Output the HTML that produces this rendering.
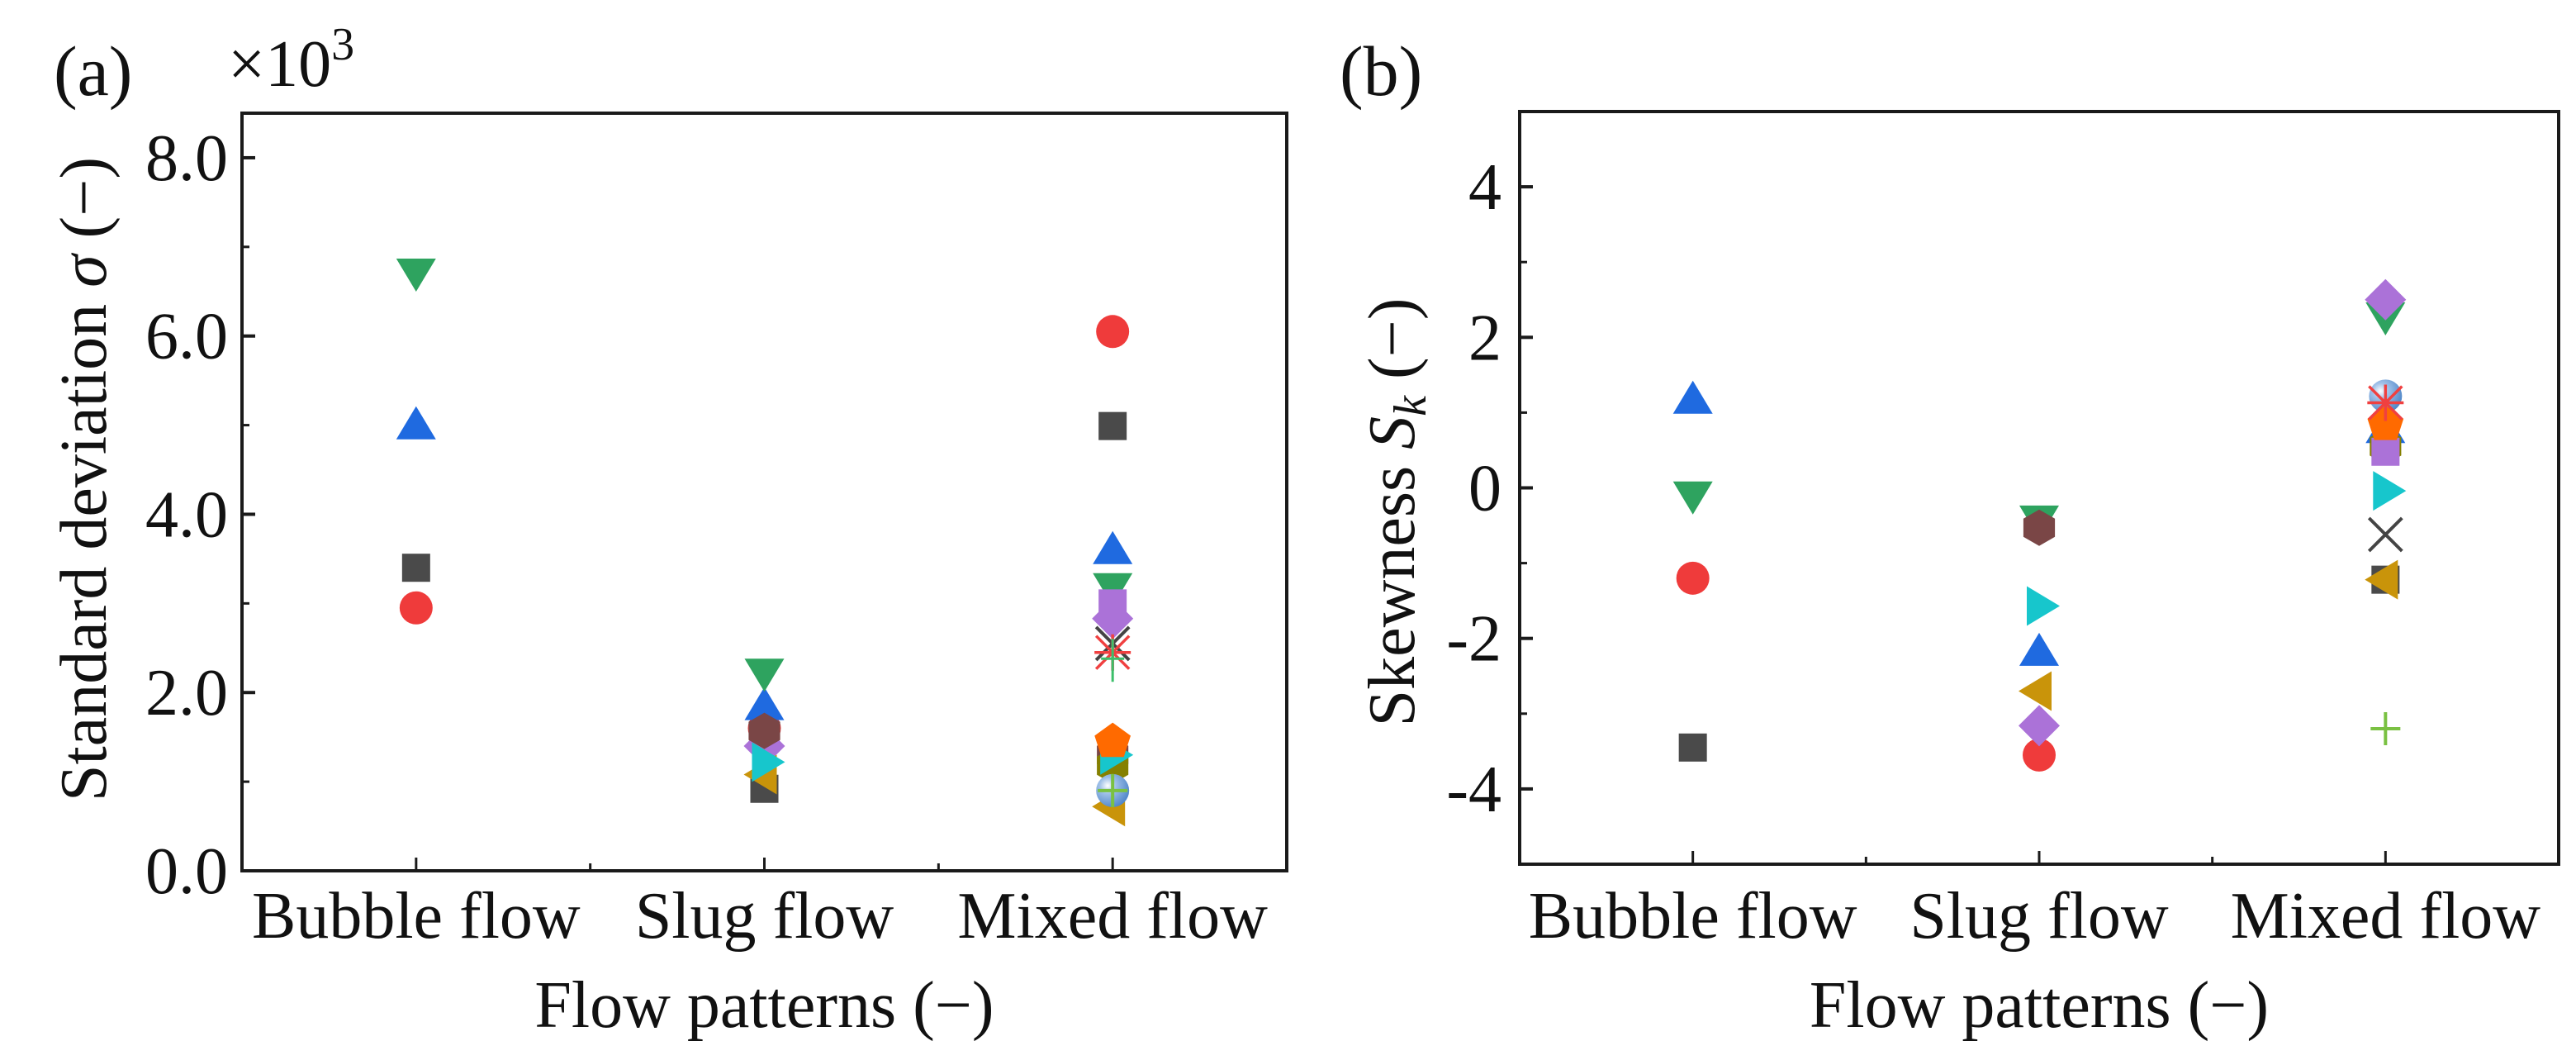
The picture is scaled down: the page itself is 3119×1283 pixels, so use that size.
<!DOCTYPE html>
<html><head><meta charset="utf-8"><style>
html,body{margin:0;padding:0;background:#fff;}
svg{display:block;}
text{font-family:"Liberation Serif",serif;fill:#111;}
</style></head><body>
<svg id="fig" width="3119" height="1283" viewBox="0 0 3119 1283" xmlns="http://www.w3.org/2000/svg">
<defs>
<radialGradient id="sph" cx="0.35" cy="0.35" r="0.7">
<stop offset="0" stop-color="#ffffff"/><stop offset="0.35" stop-color="#9fc0e8"/><stop offset="1" stop-color="#4f86c8"/>
</radialGradient>
</defs>
<text x="65" y="115" font-size="86">(a)</text>
<text x="276" y="104" font-size="80">×10<tspan font-size="56" dy="-32">3</tspan></text>
<text x="1622" y="115" font-size="86">(b)</text>
<text transform="translate(128,580) rotate(-90)" font-size="80" text-anchor="middle">Standard deviation <tspan font-style="italic">σ</tspan> (−)</text>
<text transform="translate(1712,620) rotate(-90)" font-size="80" text-anchor="middle">Skewness <tspan font-style="italic">S</tspan><tspan font-style="italic" font-size="56" dy="14">k</tspan><tspan dy="-14"> (−)</tspan></text>
</svg>
<script>
// ---- data ----
const categories = ["Bubble flow", "Slug flow", "Mixed flow"];
const sigmaTicks = ["0.0", "2.0", "4.0", "6.0", "8.0"];
const skewTicks = ["-4", "-2", "0", "2", "4"];
// panel (a): standard deviation (x10^3) per category [bubble, slug, mixed]
const sigmaSquare   = [3.40, 0.92, 4.99];
const sigmaCircle   = [2.95, 1.60, 6.05];
const sigmaUpTri    = [4.98, 1.83, 3.58];
const sigmaDownTri  = [6.73, 2.24, 3.20];
const sigmaDiamond  = [null, 1.40, 2.83];
const sigmaHexagon  = [null, 1.57, 1.30];
const sigmaLeftTri  = [null, 1.08, 0.72];
const sigmaRightTri = [null, 1.22, 1.30];
const sigmaLavSq    = [null, null, 3.00];
const sigmaCross    = [null, null, 2.55];
const sigmaAsterisk = [null, null, 2.45];
const sigmaThinPlus = [null, null, 2.38];
const sigmaStar     = [null, null, 1.18];
const sigmaPentagon = [null, null, 1.45];
const sigmaSphere   = [null, null, 0.90];
const sigmaPlus     = [null, null, 0.90];
// panel (b): skewness
const skewSquare   = [-3.45, null, -1.22];
const skewCircle   = [-1.20, -3.55, null];
const skewUpTri    = [1.15, -2.20, 0.76];
const skewDownTri  = [-0.08, -0.40, 2.30];
const skewDiamond  = [null, -3.16, 2.50];
const skewHexagon  = [null, -0.53, null];
const skewLeftTri  = [null, -2.70, -1.22];
const skewRightTri = [null, -1.57, -0.04];
const skewLavSq    = [null, null, 0.48];
const skewCross    = [null, null, -0.62];
const skewStar     = [null, null, 0.55];
const skewPentagon = [null, null, 0.84];
const skewSphere   = [null, null, 1.22];
const skewAsterisk = [null, null, 1.13];
const skewPlus     = [null, null, -3.20];

const NS = "http://www.w3.org/2000/svg";
const svg = document.getElementById("fig");
function mk(tag, attrs, parent) {
  const e = document.createElementNS(NS, tag);
  for (const k in attrs) e.setAttribute(k, attrs[k]);
  (parent || svg).appendChild(e);
  return e;
}
function poly(pts){return pts.map(p=>p[0].toFixed(1)+","+p[1].toFixed(1)).join(" ");}
function regular(cx, cy, r, n, rot){const p=[];for(let i=0;i<n;i++){const a=rot+i*2*Math.PI/n;p.push([cx+r*Math.cos(a),cy+r*Math.sin(a)]);}return poly(p);}

function drawMarker(g, type, color, x, y) {
  let el;
  if (type === "square") el = mk("rect", {x: x-17, y: y-17, width: 34, height: 34, fill: color}, g);
  else if (type === "circle") el = mk("circle", {cx: x, cy: y, r: 20, fill: color}, g);
  else if (type === "sphere") el = mk("circle", {cx: x, cy: y, r: 20, fill: "url(#sph)"}, g);
  else if (type === "up") el = mk("polygon", {points: poly([[x, y-25],[x-24, y+15],[x+24, y+15]]), fill: color}, g);
  else if (type === "down") el = mk("polygon", {points: poly([[x, y+25],[x-24, y-15],[x+24, y-15]]), fill: color}, g);
  else if (type === "left") el = mk("polygon", {points: poly([[x-25, y],[x+15, y-24],[x+15, y+24]]), fill: color}, g);
  else if (type === "right") el = mk("polygon", {points: poly([[x+25, y],[x-15, y-24],[x-15, y+24]]), fill: color}, g);
  else if (type === "diamond") el = mk("polygon", {points: poly([[x, y-25],[x+25, y],[x, y+25],[x-25, y]]), fill: color}, g);
  else if (type === "hexagon") el = mk("polygon", {points: regular(x, y, 22, 6, -Math.PI/2), fill: color}, g);
  else if (type === "pentagon") el = mk("polygon", {points: regular(x, y, 23, 5, -Math.PI/2), fill: color}, g);
  else if (type === "cross") el = mk("path", {d: `M${x-20},${y-20}L${x+20},${y+20}M${x-20},${y+20}L${x+20},${y-20}`, stroke: color, "stroke-width": 4, fill: "none"}, g);
  else if (type === "plus") el = mk("path", {d: `M${x-18},${y}L${x+18},${y}M${x},${y-20}L${x},${y+20}`, stroke: color, "stroke-width": 4, fill: "none"}, g);
  else if (type === "thinplus") el = mk("path", {d: `M${x-14},${y}L${x+14},${y}M${x},${y-24}L${x},${y+28}`, stroke: color, "stroke-width": 3, fill: "none"}, g);
  else if (type === "asterisk") el = mk("path", {d: `M${x-20},${y-20}L${x+20},${y+20}M${x-20},${y+20}L${x+20},${y-20}M${x-22},${y}L${x+22},${y}M${x},${y-22}L${x},${y+22}`, stroke: color, "stroke-width": 3.5, fill: "none"}, g);
  return el;
}

function panel(opt) {
  const g = mk("g", {});
  
  
  const {x0, x1, y0, y1, ymin, ymax} = opt;
  const sx = v => x0 + (v - 0.5) / 3 * (x1 - x0);
  const sy = v => y1 - (v - ymin) / (ymax - ymin) * (y1 - y0);
  const frame = mk("rect", {x: x0, y: y0, width: x1-x0, height: y1-y0, fill: "none", stroke: "#1a1a1a", "stroke-width": 4}, g);
  
  
  opt.yTickLabels.forEach((lab) => {
    const v = parseFloat(lab);
    const y = sy(v);
    mk("line", {x1: x0, y1: y, x2: x0+16, y2: y, stroke: "#1a1a1a", "stroke-width": 4}, g);
    const t = mk("text", {x: opt.labelRight, y: y+27, "font-size": 80, "text-anchor": "end"}, g);
    t.textContent = lab;
    
    
  });
  opt.yMinor.forEach(v => {
    const y = sy(v);
    mk("line", {x1: x0, y1: y, x2: x0+9, y2: y, stroke: "#1a1a1a", "stroke-width": 3}, g);
  });
  categories.forEach((c, i) => {
    const x = sx(i+1);
    mk("line", {x1: x, y1: y1, x2: x, y2: y1-16, stroke: "#1a1a1a", "stroke-width": 3}, g);
    const t = mk("text", {x: x, y: 1135, "font-size": 80, "text-anchor": "middle"}, g);
    t.textContent = c;
    
    
  });
  [1.5, 2.5].forEach(v => {
    const x = sx(v);
    mk("line", {x1: x, y1: y1, x2: x, y2: y1-9, stroke: "#1a1a1a", "stroke-width": 3}, g);
  });
  const xt = mk("text", {x: (x0+x1)/2, y: 1243, "font-size": 80, "text-anchor": "middle"}, g);
  xt.textContent = "Flow patterns (−)";
  
  
  opt.series.forEach(s => {
    s.vals.forEach((v, i) => {
      if (v === null) return;
      const m = drawMarker(g, s.type, s.color, sx(i+1), sy(v));
      
      
    });
  });
}

panel({
  name: "panel-a-std-deviation", x0: 293, x1: 1558, y0: 137, y1: 1054, ymin: 0, ymax: 8.5,
  yTickLabels: sigmaTicks, yMinor: [1, 3, 5, 7], labelRight: 276,
  series: [
    {label: "square", type: "square", color: "#4a4a4a", vals: sigmaSquare},
    {label: "circle", type: "circle", color: "#ef3b3b", vals: sigmaCircle},
    {label: "up-triangle", type: "up", color: "#1f6ae0", vals: sigmaUpTri},
    {label: "down-triangle", type: "down", color: "#2ea35f", vals: sigmaDownTri},
    {label: "lavender-square", type: "square", color: "#ab72d8", vals: sigmaLavSq},
    {label: "diamond", type: "diamond", color: "#ab72d8", vals: sigmaDiamond},
    {label: "hexagon", type: "hexagon", color: "#7a4646", vals: sigmaHexagon},
    {label: "star", type: "hexagon", color: "#858000", vals: sigmaStar},
    {label: "left-triangle", type: "left", color: "#c9940a", vals: sigmaLeftTri},
    {label: "right-triangle", type: "right", color: "#17c6cc", vals: sigmaRightTri},
    {label: "cross", type: "cross", color: "#444444", vals: sigmaCross},
    {label: "asterisk", type: "asterisk", color: "#f04040", vals: sigmaAsterisk},
    {label: "thin-plus", type: "thinplus", color: "#3cbf6a", vals: sigmaThinPlus},
    {label: "pentagon", type: "pentagon", color: "#ff6a00", vals: sigmaPentagon},
    {label: "sphere", type: "sphere", color: "#6f9fd8", vals: sigmaSphere},
    {label: "plus", type: "plus", color: "#7ac142", vals: sigmaPlus}
  ]
});
panel({
  name: "panel-b-skewness", x0: 1840, x1: 3098, y0: 135, y1: 1046, ymin: -5, ymax: 5,
  yTickLabels: skewTicks, yMinor: [-3, -1, 1, 3], labelRight: 1818,
  series: [
    {label: "square", type: "square", color: "#4a4a4a", vals: skewSquare},
    {label: "circle", type: "circle", color: "#ef3b3b", vals: skewCircle},
    {label: "up-triangle", type: "up", color: "#1f6ae0", vals: skewUpTri},
    {label: "down-triangle", type: "down", color: "#2ea35f", vals: skewDownTri},
    {label: "diamond", type: "diamond", color: "#ab72d8", vals: skewDiamond},
    {label: "hexagon", type: "hexagon", color: "#7a4646", vals: skewHexagon},
    {label: "left-triangle", type: "left", color: "#c9940a", vals: skewLeftTri},
    {label: "right-triangle", type: "right", color: "#17c6cc", vals: skewRightTri},
    {label: "cross", type: "cross", color: "#444444", vals: skewCross},
    {label: "star", type: "hexagon", color: "#858000", vals: skewStar},
    {label: "lavender-square", type: "square", color: "#ab72d8", vals: skewLavSq},
    {label: "sphere", type: "sphere", color: "#6f9fd8", vals: skewSphere},
    {label: "pentagon", type: "pentagon", color: "#ff6a00", vals: skewPentagon},
    {label: "asterisk", type: "asterisk", color: "#f04040", vals: skewAsterisk},
    {label: "plus", type: "plus", color: "#7ac142", vals: skewPlus}
  ]
});
</script>
</body></html>
